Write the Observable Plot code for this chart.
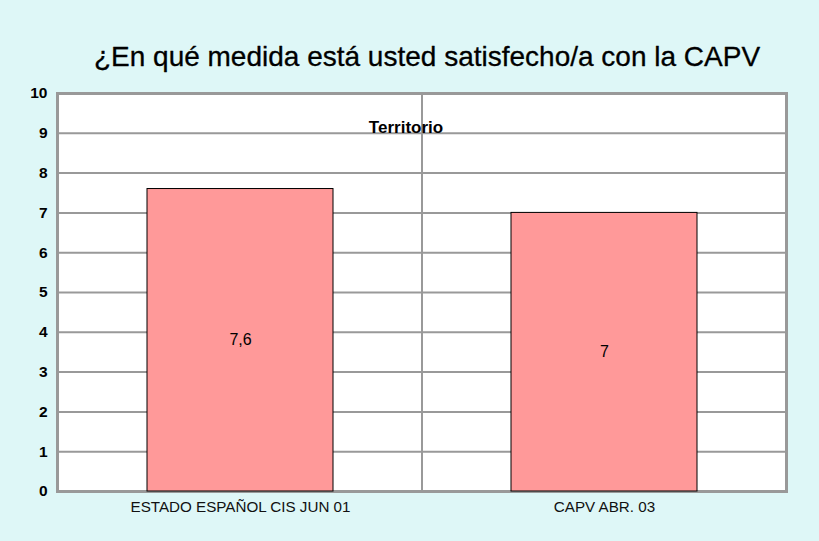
<!DOCTYPE html>
<html>
<head>
<meta charset="utf-8">
<script src="https://cdn.jsdelivr.net/npm/d3@7"></script>
<script src="https://cdn.jsdelivr.net/npm/@observablehq/plot@0.6"></script>
<style>
  html, body { margin: 0; padding: 0; background: #DEF7F7; }
  #chart svg { display: block; }
</style>
</head>
<body>
<div id="chart"></div>
<script>
const title = "¿En qué medida está usted satisfecho/a con la CAPV";
const axisLabel = "Territorio";
const categories = ["ESTADO ESPAÑOL CIS JUN 01", "CAPV ABR. 03"];
const values = [7.6, 7];
const yTicks = [0, 1, 2, 3, 4, 5, 6, 7, 8, 9, 10];

const data = categories.map((c, i) => ({category: c, value: values[i]}));
const fmt = v => String(v).replace(".", ",");
const font = "'Liberation Sans', Arial, sans-serif";

const chart = Plot.plot({
  width: 819,
  height: 541,
  marginTop: 93,
  marginBottom: 50,
  marginLeft: 57,
  marginRight: 33,
  style: {background: "#DEF7F7", fontFamily: font, color: "#000"},
  x: {domain: categories, paddingInner: 0.49, paddingOuter: 0.245, label: null},
  y: {domain: [0, 10], label: null},
  marks: [
    Plot.frame({fill: "white", stroke: null}),
    Plot.ruleY(yTicks, {stroke: "#999", strokeWidth: 2}),
    Plot.ruleX([0], {x: null, stroke: "#999", strokeWidth: 2}),
    Plot.frame({stroke: "#999", strokeWidth: 3}),
    Plot.barY(data, {x: "category", y: "value", fill: "#FF9999", stroke: "#000", strokeWidth: 1}),
    Plot.text(data, {x: "category", y: d => d.value / 2, text: d => fmt(d.value), fontSize: 16, fill: "#000"}),
    Plot.axisY(yTicks, {tickSize: 0, tickPadding: 10, fontSize: 15.5, fontWeight: "bold", fill: "#000"}),
    Plot.axisX({tickSize: 0, tickPadding: 10, fontSize: 15.2, fill: "#111"}),
    Plot.text([axisLabel], {frameAnchor: "top", dx: -16, dy: 27, fontSize: 17, fontWeight: "bold", letterSpacing: "-0.5px", fill: "#000"}),
    Plot.text([title], {frameAnchor: "top", dx: 5, dy: -47, fontSize: 28, fill: "#000", stroke: "#000", strokeWidth: 0.3})
  ]
});
document.getElementById("chart").appendChild(chart);
</script>
</body>
</html>
